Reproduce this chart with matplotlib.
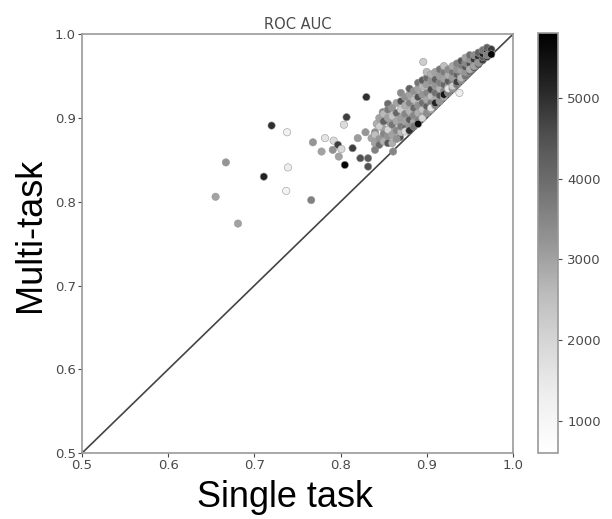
import matplotlib
matplotlib.use('Agg')
import matplotlib.pyplot as plt

# 数据: 单任务 vs 多任务 ROC AUC, 颜色为样本数
single_task = [
    0.720, 0.738, 0.667, 0.711, 0.739, 0.655, 0.737, 0.766, 0.681, 0.768,
    0.782, 0.778, 0.792, 0.797, 0.791, 0.801, 0.798, 0.814, 0.820, 0.805,
    0.823, 0.832, 0.832, 0.830, 0.807, 0.804, 0.829, 0.836, 0.840, 0.850,
    0.842, 0.849, 0.857, 0.859, 0.869, 0.861, 0.884, 0.855, 0.938, 0.896,
    0.840, 0.840, 0.840,
    0.845, 0.845, 0.845, 0.845,
    0.850, 0.850, 0.850, 0.850,
    0.855, 0.855, 0.855, 0.855, 0.855,
    0.860, 0.860, 0.860, 0.860, 0.860,
    0.865, 0.865, 0.865, 0.865, 0.865,
    0.870, 0.870, 0.870, 0.870, 0.870, 0.870,
    0.875, 0.875, 0.875, 0.875, 0.875, 0.875,
    0.880, 0.880, 0.880, 0.880, 0.880, 0.880, 0.880,
    0.885, 0.885, 0.885, 0.885, 0.885, 0.885,
    0.890, 0.890, 0.890, 0.890, 0.890, 0.890, 0.890,
    0.895, 0.895, 0.895, 0.895, 0.895, 0.895, 0.895,
    0.900, 0.900, 0.900, 0.900, 0.900, 0.900, 0.900,
    0.905, 0.905, 0.905, 0.905, 0.905, 0.905, 0.905,
    0.910, 0.910, 0.910, 0.910, 0.910, 0.910, 0.910,
    0.915, 0.915, 0.915, 0.915, 0.915, 0.915,
    0.920, 0.920, 0.920, 0.920, 0.920, 0.920, 0.920,
    0.925, 0.925, 0.925, 0.925, 0.925, 0.925,
    0.930, 0.930, 0.930, 0.930, 0.930, 0.930,
    0.935, 0.935, 0.935, 0.935, 0.935, 0.935,
    0.940, 0.940, 0.940, 0.940, 0.940, 0.940,
    0.945, 0.945, 0.945, 0.945, 0.945,
    0.950, 0.950, 0.950, 0.950, 0.950, 0.950,
    0.955, 0.955, 0.955, 0.955, 0.955,
    0.960, 0.960, 0.960, 0.960, 0.960,
    0.965, 0.965, 0.965, 0.965,
    0.970, 0.970, 0.970, 0.970, 0.970,
    0.975, 0.975, 0.975,
]
multi_task = [
    0.891, 0.883, 0.847, 0.830, 0.841, 0.806, 0.813, 0.802, 0.774, 0.871,
    0.876, 0.860, 0.873, 0.868, 0.862, 0.863, 0.854, 0.864, 0.876, 0.844,
    0.852, 0.852, 0.842, 0.925, 0.901, 0.892, 0.883, 0.876, 0.883, 0.887,
    0.893, 0.907, 0.895, 0.889, 0.877, 0.860, 0.905, 0.917, 0.930, 0.967,
    0.870, 0.880, 0.862,
    0.875, 0.890, 0.868, 0.900,
    0.872, 0.881, 0.896, 0.905,
    0.878, 0.886, 0.900, 0.870, 0.910,
    0.880, 0.892, 0.902, 0.912, 0.870,
    0.885, 0.896, 0.906, 0.918, 0.875,
    0.883, 0.890, 0.900, 0.910, 0.920, 0.930,
    0.888, 0.896, 0.905, 0.915, 0.925, 0.884,
    0.890, 0.898, 0.908, 0.918, 0.928, 0.935, 0.885,
    0.895, 0.903, 0.912, 0.922, 0.932, 0.890,
    0.898, 0.906, 0.915, 0.925, 0.935, 0.942, 0.893,
    0.902, 0.910, 0.918, 0.928, 0.938, 0.945, 0.900,
    0.906, 0.914, 0.922, 0.930, 0.940, 0.948, 0.955,
    0.910, 0.918, 0.926, 0.934, 0.944, 0.952, 0.912,
    0.915, 0.922, 0.930, 0.938, 0.946, 0.955, 0.918,
    0.920, 0.927, 0.935, 0.942, 0.950, 0.958,
    0.925, 0.932, 0.940, 0.947, 0.955, 0.962, 0.928,
    0.930, 0.937, 0.944, 0.951, 0.958, 0.935,
    0.935, 0.941, 0.948, 0.955, 0.962, 0.938,
    0.940, 0.946, 0.952, 0.958, 0.965, 0.943,
    0.945, 0.951, 0.957, 0.963, 0.968, 0.948,
    0.950, 0.955, 0.961, 0.966, 0.972,
    0.955, 0.960, 0.965, 0.970, 0.958, 0.975,
    0.960, 0.965, 0.970, 0.975, 0.962,
    0.964, 0.968, 0.973, 0.978, 0.966,
    0.969, 0.973, 0.977, 0.981,
    0.973, 0.977, 0.981, 0.984, 0.975,
    0.978, 0.982, 0.976,
]
n_samples = [
    5000, 1200, 3200, 5200, 1300, 3000, 1100, 3600, 3000, 3200,
    1600, 3000, 1800, 4800, 3300, 1900, 3000, 4800, 3100, 5700,
    4500, 4300, 4500, 5000, 4800, 1800, 3200, 3000, 3400, 3000,
    2800, 3500, 3200, 3000, 4500, 3500, 5500, 4000, 1300, 2200,
    3000, 2500, 3600,
    3200, 2200, 4000, 3000,
    2800, 3500, 4200, 2600,
    3300, 2000, 3000, 4400, 3700,
    3000, 3800, 2400, 3200, 2800,
    3500, 2900, 4100, 3000, 3300,
    2600, 3700, 3100, 2200, 4500, 3400,
    4000, 3000, 3500, 2800, 3300, 1800,
    3200, 4300, 2700, 3600, 3000, 4200, 5000,
    2900, 3500, 4000, 2500, 3300, 3800,
    3600, 2800, 3300, 4500, 3000, 3800, 5600,
    3100, 2400, 3900, 3200, 2700, 4300, 2000,
    3400, 4200, 2900, 3500, 3100, 4000, 2600,
    3000, 3700, 2500, 4600, 3300, 2800, 1600,
    3500, 2800, 3900, 3200, 4200, 3000, 5200,
    3200, 4400, 2700, 3600, 3100, 3800,
    2900, 3500, 4100, 3000, 3700, 2500, 5400,
    3600, 3000, 4300, 2800, 3400, 1500,
    3300, 4000, 3100, 3800, 2900, 2200,
    3700, 2900, 4200, 3300, 3600, 4800,
    3400, 4100, 3000, 3700, 4400, 2600,
    3800, 3200, 4400, 3500, 3000,
    4000, 3500, 4600, 3300, 2800, 3900,
    4300, 3700, 4900, 3400, 3000,
    4500, 3900, 5000, 4200, 3200,
    4800, 4300, 5300, 3800,
    5000, 4600, 5500, 4200, 3600,
    5400, 4800, 5700,
]
ticks = [0.5, 0.6, 0.7, 0.8, 0.9, 1.0]
cbar_ticks = [1000, 2000, 3000, 4000, 5000]

grey = '#4a4a4a'
fig = plt.figure(figsize=(6.12, 5.19), dpi=100)
ax = fig.add_axes([0.134, 0.127, 0.704, 0.807])
cax = fig.add_axes([0.879, 0.127, 0.033, 0.809])

sc = ax.scatter(single_task, multi_task, c=n_samples, cmap='Greys', vmin=600, vmax=5800,
                s=28, edgecolors='0.6', linewidths=0.4, zorder=3)
ax.plot([0.5, 1.0], [0.5, 1.0], color='#444444', linewidth=1.2, zorder=2)

ax.set_xlim(0.5, 1.0)
ax.set_ylim(0.5, 1.0)
ax.set_xticks(ticks)
ax.set_yticks(ticks)
ax.set_xticklabels([f'{t:.1f}' for t in ticks])
ax.set_yticklabels([f'{t:.1f}' for t in ticks])
ax.tick_params(colors=grey, labelsize=9.5, length=3, width=0.8, pad=1.5)
for sp in ax.spines.values():
    sp.set_color('#999999')
    sp.set_linewidth(1.2)

ax.set_title('ROC AUC', fontsize=10.5, color=grey, pad=4)
ax.set_xlabel('Single task', fontsize=26, family='Liberation Sans', color='black')
ax.set_ylabel('Multi-task', fontsize=26, family='Liberation Sans', color='black')
ax.xaxis.set_label_coords(0.471, -0.064)
ax.yaxis.set_label_coords(-0.078, 0.52)

cb = fig.colorbar(sc, cax=cax)
cb.set_ticks(cbar_ticks)
cb.ax.tick_params(colors=grey, labelsize=9.5, length=3, width=0.8)
cb.outline.set_edgecolor('#999999')
cb.outline.set_linewidth(1.2)

plt.savefig('out.png', dpi=100)
